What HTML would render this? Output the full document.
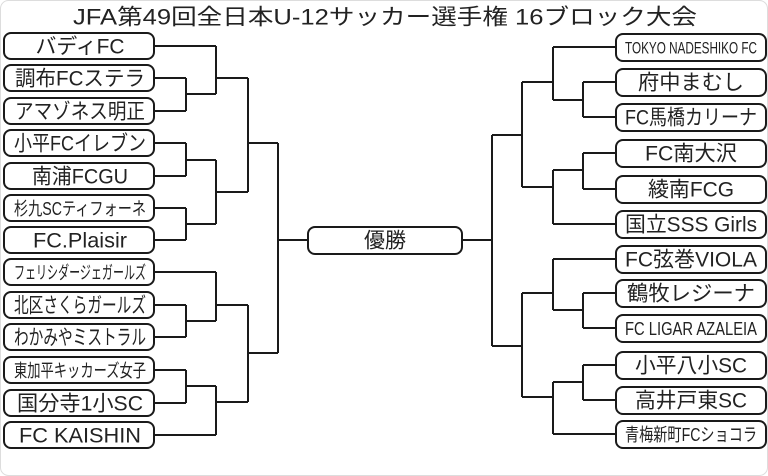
<!DOCTYPE html>
<html><head><meta charset="utf-8"><style>
html,body{margin:0;padding:0;background:#fff;}
svg{display:block;}
text{font-family:"Liberation Sans","Noto Sans CJK JP",sans-serif;font-size:21px;fill:#222;text-anchor:middle;dominant-baseline:central;}
.b{fill:#fff;stroke:#1a1a1a;stroke-width:2;}
.l{fill:none;stroke:#1a1a1a;stroke-width:2;}
</style></head><body>
<svg width="768" height="476" viewBox="0 0 768 476">
<rect x="0.5" y="0.5" width="767" height="475" rx="8" fill="none" stroke="#ddd"/>
<text x="385" y="17" style="font-size:22px" textLength="624" lengthAdjust="spacingAndGlyphs">JFA第49回全日本U-12サッカー選手権 16ブロック大会</text>
<path class="l" d="M154 46H216 M154 78H186 M154 111H186 M186 78V111 M186 94H216 M216 46V94 M216 78H248
M154 143H186 M154 176H186 M186 143V176 M186 160H216 M154 208H186 M154 240H186 M186 208V240 M186 224H216 M216 160V224 M216 192H248 M248 78V192 M248 143H278
M154 272H216 M154 305H186 M154 337H186 M186 305V337 M186 321H216 M216 272V321 M216 305H248
M154 370H186 M154 403H186 M186 370V403 M186 386H216 M154 435H216 M216 386V435 M216 402H248 M248 305V402 M248 353H278
M278 143V353 M278 240H308"/>
<path class="l" d="M616 47H553 M616 82H583 M616 117H583 M583 82V117 M583 100H553 M553 47V100 M553 82H522
M616 153H583 M616 189H583 M583 153V189 M583 170H553 M616 224H553 M553 170V224 M553 187H522 M522 82V187 M522 135H492
M616 259H553 M616 293H583 M616 328H583 M583 293V328 M583 310H553 M553 259V310 M553 293H522
M616 365H583 M616 400H583 M583 365V400 M583 382H553 M616 434H553 M553 382V434 M553 397H522 M522 293V397 M522 346H492
M492 135V346 M462 240H492"/>
<g>
<rect class="b" x="4" y="33" width="150" height="26" rx="7"/><text x="80" y="47" textLength="89" lengthAdjust="spacingAndGlyphs">バディFC</text>
<rect class="b" x="4" y="65" width="150" height="26" rx="7"/><text x="80" y="79" textLength="130" lengthAdjust="spacingAndGlyphs">調布FCステラ</text>
<rect class="b" x="4" y="98" width="150" height="26" rx="7"/><text x="80" y="112" textLength="130" lengthAdjust="spacingAndGlyphs">アマゾネス明正</text>
<rect class="b" x="4" y="130" width="150" height="26" rx="7"/><text x="80" y="144" textLength="132" lengthAdjust="spacingAndGlyphs">小平FCイレブン</text>
<rect class="b" x="4" y="163" width="150" height="26" rx="7"/><text x="80" y="177" textLength="96" lengthAdjust="spacingAndGlyphs">南浦FCGU</text>
<rect class="b" x="4" y="195" width="150" height="26" rx="7"/><text x="80" y="209" style="font-size:18px" textLength="132" lengthAdjust="spacingAndGlyphs">杉九SCティフォーネ</text>
<rect class="b" x="4" y="227" width="150" height="26" rx="7"/><text x="80" y="241" textLength="94" lengthAdjust="spacingAndGlyphs">FC.Plaisir</text>
<rect class="b" x="4" y="259" width="150" height="26" rx="7"/><text x="80" y="273" style="font-size:18px" textLength="132" lengthAdjust="spacingAndGlyphs">フェリシダージェガールズ</text>
<rect class="b" x="4" y="292" width="150" height="26" rx="7"/><text x="80" y="306" textLength="132" lengthAdjust="spacingAndGlyphs">北区さくらガールズ</text>
<rect class="b" x="4" y="324" width="150" height="26" rx="7"/><text x="80" y="338" textLength="132" lengthAdjust="spacingAndGlyphs">わかみやミストラル</text>
<rect class="b" x="4" y="357" width="150" height="26" rx="7"/><text x="80" y="371" style="font-size:18px" textLength="132" lengthAdjust="spacingAndGlyphs">東加平キッカーズ女子</text>
<rect class="b" x="4" y="390" width="150" height="26" rx="7"/><text x="80" y="404" textLength="126" lengthAdjust="spacingAndGlyphs">国分寺1小SC</text>
<rect class="b" x="4" y="422" width="150" height="26" rx="7"/><text x="80" y="436" textLength="122" lengthAdjust="spacingAndGlyphs">FC KAISHIN</text>
</g>
<rect class="b" x="308" y="227" width="154" height="27" rx="7"/><text x="385" y="241">優勝</text>
<g>
<rect class="b" x="616" y="34" width="150" height="27" rx="7"/><text x="691" y="48" style="font-size:17px" textLength="132" lengthAdjust="spacingAndGlyphs">TOKYO NADESHIKO FC</text>
<rect class="b" x="616" y="69" width="150" height="27" rx="7"/><text x="691" y="83" textLength="106" lengthAdjust="spacingAndGlyphs">府中まむし</text>
<rect class="b" x="616" y="104" width="150" height="27" rx="7"/><text x="691" y="118" textLength="132" lengthAdjust="spacingAndGlyphs">FC馬橋カリーナ</text>
<rect class="b" x="616" y="140" width="150" height="27" rx="7"/><text x="691" y="154" textLength="92" lengthAdjust="spacingAndGlyphs">FC南大沢</text>
<rect class="b" x="616" y="176" width="150" height="27" rx="7"/><text x="691" y="190" textLength="86" lengthAdjust="spacingAndGlyphs">綾南FCG</text>
<rect class="b" x="616" y="211" width="150" height="27" rx="7"/><text x="691" y="225" textLength="132" lengthAdjust="spacingAndGlyphs">国立SSS Girls</text>
<rect class="b" x="616" y="246" width="150" height="27" rx="7"/><text x="691" y="260" textLength="132" lengthAdjust="spacingAndGlyphs">FC弦巻VIOLA</text>
<rect class="b" x="616" y="280" width="150" height="27" rx="7"/><text x="691" y="294" textLength="128" lengthAdjust="spacingAndGlyphs">鶴牧レジーナ</text>
<rect class="b" x="616" y="315" width="150" height="27" rx="7"/><text x="691" y="329" style="font-size:18px" textLength="132" lengthAdjust="spacingAndGlyphs">FC LIGAR AZALEIA</text>
<rect class="b" x="616" y="352" width="150" height="27" rx="7"/><text x="691" y="366" textLength="112" lengthAdjust="spacingAndGlyphs">小平八小SC</text>
<rect class="b" x="616" y="387" width="150" height="27" rx="7"/><text x="691" y="401" textLength="112" lengthAdjust="spacingAndGlyphs">高井戸東SC</text>
<rect class="b" x="616" y="421" width="150" height="27" rx="7"/><text x="691" y="435" style="font-size:18px" textLength="132" lengthAdjust="spacingAndGlyphs">青梅新町FCショコラ</text>
</g>
</svg>
</body></html>
